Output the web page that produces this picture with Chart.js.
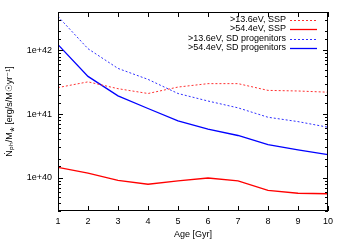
<!DOCTYPE html>
<html>
<head>
<meta charset="utf-8">
<script src="https://cdn.jsdelivr.net/npm/chart.js@4"></script>
<style>
  html, body { margin: 0; padding: 0; background: #fff; }
  #wrap { width: 346px; height: 242px; }
</style>
</head>
<body>
<div id="wrap"><canvas id="c" width="346" height="242"></canvas></div>
<script>
// ages in Gyr
var ages = [1, 2, 3, 4, 5, 6, 7, 8, 9, 10];
// Nph/M* values
var ssp136 = [2.6e41, 3.2e41, 2.5e41, 2.1e41, 2.65e41, 3.0e41, 3.0e41, 2.35e41, 2.3e41, 2.2e41];
var ssp544 = [1.45e40, 1.18e40, 9.1e39, 7.9e39, 8.9e39, 9.9e39, 8.9e39, 6.3e39, 5.7e39, 5.6e39];
var sd136 = [3.4e42, 1.06e42, 5.2e41, 3.5e41, 2.1e41, 1.6e41, 1.25e41, 8.9e40, 7.6e40, 6.2e40];
var sd544 = [1.23e42, 3.9e41, 1.93e41, 1.22e41, 7.8e40, 5.8e40, 4.6e40, 3.3e40, 2.74e40, 2.3e40];
var seriesLabels = ['>13.6eV, SSP', '>54.4eV, SSP', '>13.6eV, SD progenitors', '>54.4eV, SD progenitors'];
var yTickLabels = ['1e+40', '1e+41', '1e+42'];

var FONT = '"Liberation Sans", Arial, Helvetica, sans-serif';

function pts(vals) {
  return ages.map(function(a, i) { return {x: a, y: vals[i]}; });
}

function isDecade(v) {
  var l = Math.log10(v);
  return Math.abs(l - Math.round(l)) < 1e-6;
}

// gnuplot-style frame: box, inward ticks on all sides, legend top-right
var gnuplotFrame = {
  id: 'gnuplotFrame',
  afterDatasetsDraw: function(chart) {
    var ctx = chart.ctx, a = chart.chartArea;
    var xs = chart.scales.x, ys = chart.scales.y;
    ctx.save();
    ctx.strokeStyle = '#000';
    ctx.lineWidth = 1;
    ctx.beginPath();
    xs.ticks.forEach(function(t) {
      var px = Math.round(xs.getPixelForValue(t.value)) + 0.5;
      ctx.moveTo(px, a.bottom); ctx.lineTo(px, a.bottom - 5);
      ctx.moveTo(px, a.top); ctx.lineTo(px, a.top + 5);
    });
    ys.ticks.forEach(function(t) {
      var py = Math.round(ys.getPixelForValue(t.value)) + 0.5;
      var len = isDecade(t.value) ? 5 : 3;
      ctx.moveTo(a.left, py); ctx.lineTo(a.left + len, py);
      ctx.moveTo(a.right, py); ctx.lineTo(a.right - len, py);
    });
    ctx.stroke();
    ctx.strokeRect(Math.round(a.left) + 0.5, Math.round(a.top) + 0.5,
                   Math.round(a.right - a.left) - 1, Math.round(a.bottom - a.top) - 1);

    // legend
    ctx.font = '9px ' + FONT;
    ctx.fillStyle = '#000';
    ctx.textAlign = 'right';
    ctx.textBaseline = 'middle';
    var textRight = a.right - 42, y0 = a.top + 7.5;
    chart.data.datasets.forEach(function(ds, i) {
      var y = Math.round(y0 + i * 9.6);
      ctx.fillText(ds.label, textRight, y - 0.5);
      ctx.save();
      ctx.strokeStyle = ds.borderColor;
      ctx.lineWidth = ds.borderWidth;
      ctx.setLineDash(ds.borderDash || []);
      ctx.beginPath();
      ctx.moveTo(textRight + 4, y + 0.5);
      ctx.lineTo(textRight + 31, y + 0.5);
      ctx.stroke();
      ctx.restore();
    });
    ctx.restore();
  }
};

new Chart(document.getElementById('c').getContext('2d'), {
  type: 'line',
  data: {
    datasets: [{
      label: seriesLabels[0],
      data: pts(ssp136),
      borderColor: '#ff3030',
      borderWidth: 1,
      borderDash: [2, 2]
    }, {
      label: seriesLabels[1],
      data: pts(ssp544),
      borderColor: '#ff0000',
      borderWidth: 1.3
    }, {
      label: seriesLabels[2],
      data: pts(sd136),
      borderColor: '#3030ff',
      borderWidth: 1,
      borderDash: [2, 2]
    }, {
      label: seriesLabels[3],
      data: pts(sd544),
      borderColor: '#0000ff',
      borderWidth: 1.3
    }]
  },
  options: {
    responsive: false,
    animation: false,
    devicePixelRatio: 1,
    elements: {
      point: { radius: 0 },
      line: { tension: 0, fill: false }
    },
    layout: { padding: { top: 12, right: 18, left: 0, bottom: 0 } },
    plugins: {
      legend: { display: false },
      tooltip: { enabled: false }
    },
    scales: {
      x: {
        type: 'linear',
        min: 1,
        max: 10,
        grid: { display: false, drawTicks: false },
        border: { display: false },
        ticks: {
          stepSize: 1,
          padding: 5,
          color: '#000',
          font: { family: FONT, size: 9 }
        },
        title: {
          display: true,
          text: 'Age [Gyr]',
          color: '#000',
          font: { family: FONT, size: 9 },
          padding: { top: 2, bottom: 2 }
        },
        afterFit: function(s) { s.height = 31; }
      },
      y: {
        type: 'logarithmic',
        min: 3e39,
        max: 4e42,
        grid: { display: false, drawTicks: false },
        border: { display: false },
        ticks: {
          autoSkip: false,
          padding: 6,
          color: '#000',
          font: { family: FONT, size: 9 },
          callback: function(v) {
            if (!isDecade(v)) return '';
            return yTickLabels[Math.round(Math.log10(v)) - 40];
          }
        },
        title: {
          display: true,
          text: 'Ṅₚₕ/M⁎ [erg/s/M☉yr⁻¹]',
          color: '#000',
          font: { family: FONT, size: 9 },
          padding: { top: 4, bottom: 0 }
        },
        afterFit: function(s) { s.width = 58; }
      }
    }
  },
  plugins: [gnuplotFrame]
});
</script>
</body>
</html>
